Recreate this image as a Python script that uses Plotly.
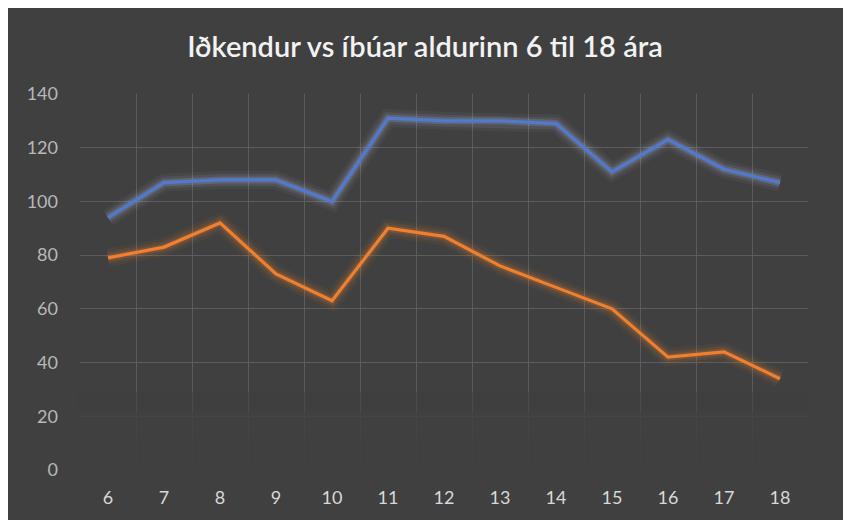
import plotly.graph_objects as go

ages = ["6", "7", "8", "9", "10", "11", "12", "13", "14", "15", "16", "17", "18"]
ibuar = [94, 107, 108, 108, 100, 131, 130, 130, 129, 111, 123, 112, 107]
idkendur = [79, 83, 92, 73, 63, 90, 87, 76, 68, 60, 42, 44, 34]
title_text = "Iðkendur vs íbúar aldurinn 6 til 18 ára"

BG = "#404040"
BLUE = "#5079d0"
ORANGE = "#f07f2e"

fig = go.Figure()

for vals, col, glow in [(ibuar, BLUE, "rgba(180,190,225,"), (idkendur, ORANGE, "rgba(240,130,50,")]:
    for w, a in [(18, 0.06), (12, 0.1), (7, 0.18)]:
        fig.add_trace(go.Scatter(x=ages, y=vals, mode="lines",
                                 line=dict(color=glow + f"{a})", width=w),
                                 hoverinfo="skip", showlegend=False))
    fig.add_trace(go.Scatter(x=ages, y=vals, mode="lines",
                             line=dict(color=col, width=3.2), showlegend=False))

# fade of gridlines in lower part
for y0, y1, op in [(-1, 12, 0.92), (12, 22, 0.8), (22, 29, 0.6)]:
    fig.add_shape(type="rect", xref="paper", yref="y", x0=-0.003, x1=1.003, y0=y0, y1=y1,
                  fillcolor=BG, opacity=op, line=dict(width=0), layer="above")

fig.update_layout(
    width=843, height=512,
    margin=dict(l=72, r=43, t=86, b=48),
    paper_bgcolor=BG, plot_bgcolor=BG,
    title=dict(text=title_text, x=417 / 843, xref="container", xanchor="center", y=1 - 39 / 512, yanchor="middle",
               font=dict(family="Lato", size=29, color="#f2f2f2", weight=600)),
    showlegend=False,
    font=dict(family="Lato", color="#c8c8c8", size=18),
)
fig.update_xaxes(type="category", range=[-0.5, 12.5], tickson="boundaries", showgrid=True,
                 gridcolor="#5c5c5c", gridwidth=1, ticks="", zeroline=False, showline=False,
                 ticklabelstandoff=15, tickfont=dict(size=18, color="#d8d8d8"))
fig.update_yaxes(range=[0, 140], dtick=20, showgrid=True, gridcolor="#5c5c5c", gridwidth=1,
                 zeroline=False, showline=False, ticks="", ticklabelstandoff=21,
                 tickfont=dict(size=18, color="#b8b8b8"))

fig.write_html("out.html")
